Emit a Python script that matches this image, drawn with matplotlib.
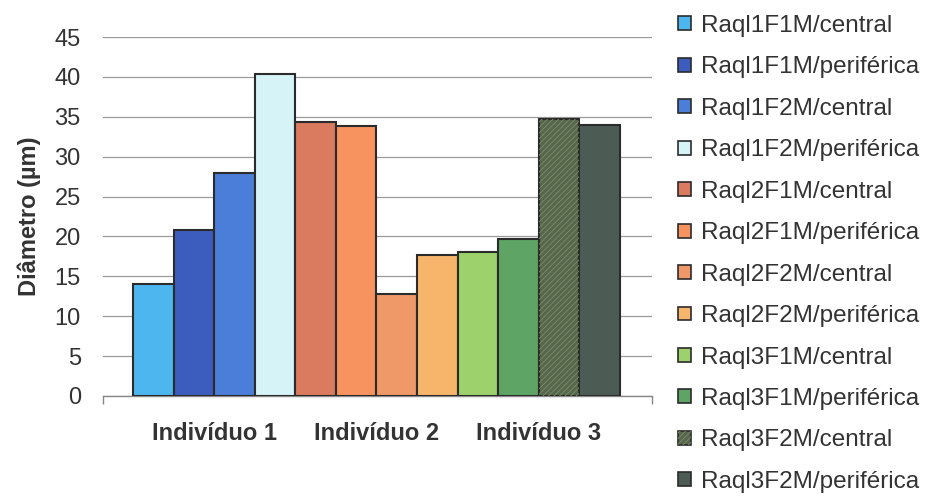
import matplotlib
matplotlib.use("Agg")
import matplotlib.pyplot as plt
from matplotlib.patches import Rectangle
from matplotlib.legend_handler import HandlerTuple

plt.rcParams['font.family'] = ['Liberation Sans', 'DejaVu Sans']
plt.rcParams['hatch.linewidth'] = 0.6

# Data
series = [
    "Raql1F1M/central", "Raql1F1M/periférica", "Raql1F2M/central", "Raql1F2M/periférica",
    "Raql2F1M/central", "Raql2F1M/periférica", "Raql2F2M/central", "Raql2F2M/periférica",
    "Raql3F1M/central", "Raql3F1M/periférica", "Raql3F2M/central", "Raql3F2M/periférica",
]
diametro = [14.0, 20.8, 27.9, 40.4, 34.3, 33.9, 12.8, 17.7, 18.0, 19.7, 34.7, 34.0]
grupos = ["Indivíduo 1", "Indivíduo 2", "Indivíduo 3"]
yticks = [0, 5, 10, 15, 20, 25, 30, 35, 40, 45]

cores = ['#4DB6EE', '#3D5DBE', '#4B7ED8', '#D6F3F7',
         '#DA7A5E', '#F6935F', '#EF9868', '#F7B56C',
         '#9DD16B', '#5DA465', '#56674B', '#4D5B55']
texturado = [False] * 10 + [True, False]

txt = '#333333'
edge = '#2b2b2b'

fig = plt.figure(figsize=(9.37, 4.97), dpi=100)
ax = fig.add_axes([103 / 937, 1 - 396 / 497, (652 - 103) / 937, (396 - 37) / 497])

n = len(diametro)
xs = list(range(n))
handles = []
for x, v, c, t in zip(xs, diametro, cores, texturado):
    ax.bar(x, v, width=1.0, color=c, edgecolor=edge, linewidth=1.5, zorder=3)
    h = Rectangle((0, 0), 1, 1, facecolor=c, edgecolor=edge, linewidth=1.2)
    if t:
        ax.bar(x, v, width=1.0, facecolor='none', edgecolor='#7d8c6c',
               hatch='//////', linewidth=0, zorder=3.5)
        h2 = Rectangle((0, 0), 1, 1, facecolor='none', edgecolor='#7d8c6c',
                       hatch='//////', linewidth=0)
        handles.append((h, h2))
    else:
        handles.append(h)

ax.set_xlim(-0.5 - 0.74, n - 0.5 + 0.79)
ax.set_ylim(0, 45)
ax.set_yticks(yticks)
ax.tick_params(axis='y', length=0, pad=16, labelsize=17, labelcolor=txt)
ax.yaxis.grid(True, color='#9a9a9a', linewidth=0.9, zorder=0)
ax.set_axisbelow(True)

# group labels centred under each block of four bars
centros = [1.5, 5.5, 9.5]
ax.set_xticks(centros)
ax.set_xticklabels(grupos, fontweight='bold', fontsize=17, color=txt)
ax.tick_params(axis='x', which='major', length=0, pad=19)
xl = ax.get_xlim()
ax.set_xticks(list(xl), minor=True)
ax.tick_params(axis='x', which='minor', length=6, width=1, color='#888888', direction='out')

for s in ['top', 'right', 'left']:
    ax.spines[s].set_visible(False)
ax.spines['bottom'].set_color('#888888')
ax.spines['bottom'].set_linewidth(1)

ax.set_ylabel("Diâmetro (µm)", fontweight='bold', fontsize=17, color=txt, labelpad=10)

leg = fig.legend(handles, series, loc='upper left', bbox_to_anchor=(678 / 937, 1 - 15 / 497),
                 frameon=False, fontsize=17.5, handlelength=0.55, handleheight=0.5,
                 handletextpad=0.4, labelspacing=0.8, borderpad=0, borderaxespad=0,
                 handler_map={tuple: HandlerTuple(ndivide=1)})
for t in leg.get_texts():
    t.set_color(txt)

fig.savefig("out.png", dpi=100)
